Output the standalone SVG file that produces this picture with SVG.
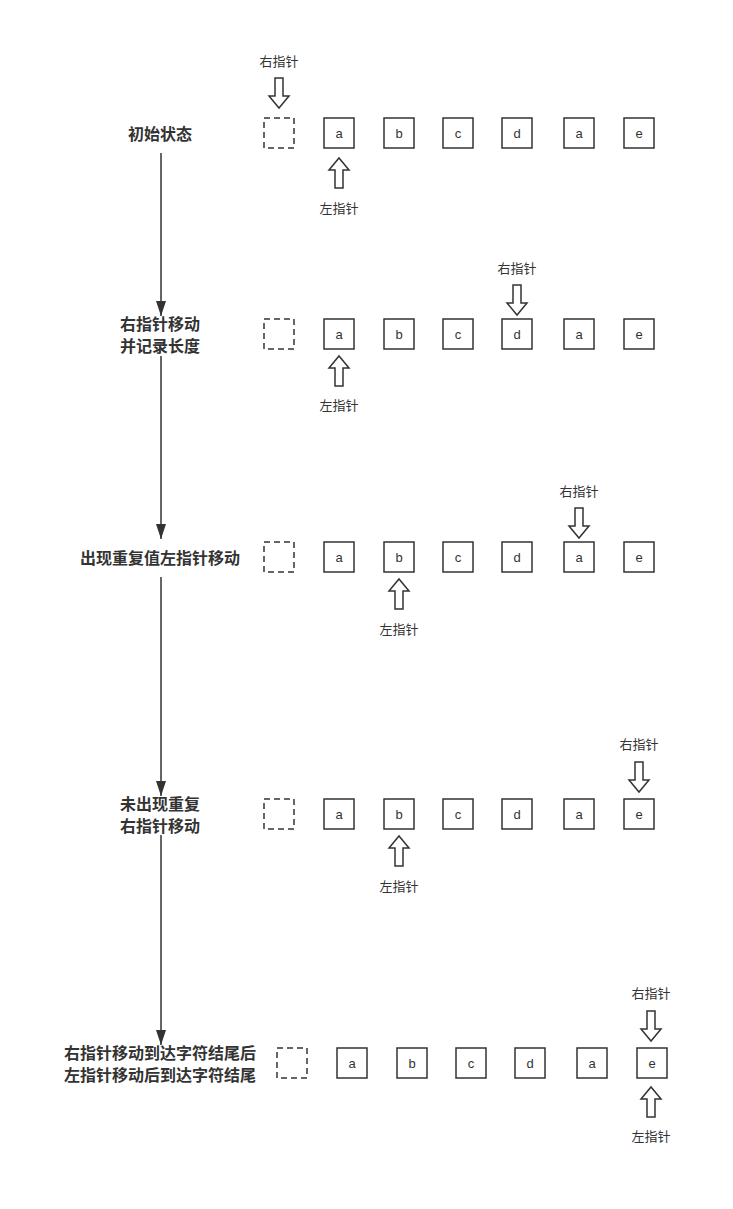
<svg xmlns="http://www.w3.org/2000/svg" width="733" height="1209" viewBox="0 0 733 1209">
<defs>
<style>
.bx{fill:#fff;stroke:#333;stroke-width:1.5}
.dash{fill:#fff;stroke:#333;stroke-width:1.5;stroke-dasharray:6 4}
.lt{font-family:"Liberation Sans","Noto Sans CJK SC",sans-serif;font-size:13px;fill:#333;text-anchor:middle;dominant-baseline:central}
.pl{font-family:"Noto Sans CJK SC","Liberation Sans",sans-serif;font-size:13px;fill:#333;text-anchor:middle;dominant-baseline:central}
.st{font-family:"Noto Sans CJK SC","Liberation Sans",sans-serif;font-size:16px;font-weight:bold;fill:#333;text-anchor:middle;dominant-baseline:central}
.ar{fill:#fff;stroke:#333;stroke-width:1.5;stroke-linejoin:miter}
.ln{stroke:#333;stroke-width:1.5;fill:none}
</style>
<marker id="ah" viewBox="0 0 15 10" refX="15" refY="5" markerWidth="15" markerHeight="10" orient="auto" markerUnits="userSpaceOnUse">
<path d="M0,0 L15,5 L0,10 z" fill="#333"/>
</marker>
<path id="down" d="M-4,0 L4,0 L4,18 L10,18 L0,30 L-10,18 L-4,18 Z"/>
<path id="up" d="M-4,30 L4,30 L4,12 L10,12 L0,0 L-10,12 L-4,12 Z"/>
</defs>
<rect width="733" height="1209" fill="#fff"/>

<g id="connectors">
<line class="ln" x1="161" y1="153" x2="161" y2="316" marker-end="url(#ah)"/>
<line class="ln" x1="161" y1="356" x2="161" y2="539" marker-end="url(#ah)"/>
<line class="ln" x1="161" y1="577" x2="161" y2="796" marker-end="url(#ah)"/>
<line class="ln" x1="161" y1="835" x2="161" y2="1045" marker-end="url(#ah)"/>
</g>

<g id="row1">
<text class="st" x="160" y="133">初始状态</text>
<rect class="dash" x="264" y="118" width="30" height="30"/>
<rect class="bx" x="324" y="118" width="30" height="30"/><text class="lt" x="339" y="133">a</text>
<rect class="bx" x="384" y="118" width="30" height="30"/><text class="lt" x="399" y="133">b</text>
<rect class="bx" x="443" y="118" width="30" height="30"/><text class="lt" x="458" y="133">c</text>
<rect class="bx" x="502" y="118" width="30" height="30"/><text class="lt" x="517" y="133">d</text>
<rect class="bx" x="564" y="118" width="30" height="30"/><text class="lt" x="579" y="133">a</text>
<rect class="bx" x="624" y="118" width="30" height="30"/><text class="lt" x="639" y="133">e</text>
<text class="pl" x="279" y="60">右指针</text>
<use href="#down" class="ar" x="279" y="78"/>
<use href="#up" class="ar" x="339" y="158"/>
<text class="pl" x="339" y="207">左指针</text>
</g>

<g id="row2">
<text class="st" x="160" y="323">右指针移动</text>
<text class="st" x="160" y="345">并记录长度</text>
<rect class="dash" x="264" y="319" width="30" height="30"/>
<rect class="bx" x="324" y="319" width="30" height="30"/><text class="lt" x="339" y="334">a</text>
<rect class="bx" x="384" y="319" width="30" height="30"/><text class="lt" x="399" y="334">b</text>
<rect class="bx" x="443" y="319" width="30" height="30"/><text class="lt" x="458" y="334">c</text>
<rect class="bx" x="502" y="319" width="30" height="30"/><text class="lt" x="517" y="334">d</text>
<rect class="bx" x="564" y="319" width="30" height="30"/><text class="lt" x="579" y="334">a</text>
<rect class="bx" x="624" y="319" width="30" height="30"/><text class="lt" x="639" y="334">e</text>
<text class="pl" x="517" y="267">右指针</text>
<use href="#down" class="ar" x="517" y="285"/>
<use href="#up" class="ar" x="339" y="356"/>
<text class="pl" x="339" y="404">左指针</text>
</g>

<g id="row3">
<text class="st" x="160" y="557">出现重复值左指针移动</text>
<rect class="dash" x="264" y="542" width="30" height="30"/>
<rect class="bx" x="324" y="542" width="30" height="30"/><text class="lt" x="339" y="557">a</text>
<rect class="bx" x="384" y="542" width="30" height="30"/><text class="lt" x="399" y="557">b</text>
<rect class="bx" x="443" y="542" width="30" height="30"/><text class="lt" x="458" y="557">c</text>
<rect class="bx" x="502" y="542" width="30" height="30"/><text class="lt" x="517" y="557">d</text>
<rect class="bx" x="564" y="542" width="30" height="30"/><text class="lt" x="579" y="557">a</text>
<rect class="bx" x="624" y="542" width="30" height="30"/><text class="lt" x="639" y="557">e</text>
<text class="pl" x="579" y="490">右指针</text>
<use href="#down" class="ar" x="579" y="508"/>
<use href="#up" class="ar" x="399" y="579"/>
<text class="pl" x="399" y="628">左指针</text>
</g>

<g id="row4">
<text class="st" x="160" y="803">未出现重复</text>
<text class="st" x="160" y="825">右指针移动</text>
<rect class="dash" x="264" y="799" width="30" height="30"/>
<rect class="bx" x="324" y="799" width="30" height="30"/><text class="lt" x="339" y="814">a</text>
<rect class="bx" x="384" y="799" width="30" height="30"/><text class="lt" x="399" y="814">b</text>
<rect class="bx" x="443" y="799" width="30" height="30"/><text class="lt" x="458" y="814">c</text>
<rect class="bx" x="502" y="799" width="30" height="30"/><text class="lt" x="517" y="814">d</text>
<rect class="bx" x="564" y="799" width="30" height="30"/><text class="lt" x="579" y="814">a</text>
<rect class="bx" x="624" y="799" width="30" height="30"/><text class="lt" x="639" y="814">e</text>
<text class="pl" x="639" y="743">右指针</text>
<use href="#down" class="ar" x="639" y="762"/>
<use href="#up" class="ar" x="399" y="836"/>
<text class="pl" x="399" y="885">左指针</text>
</g>

<g id="row5">
<text class="st" x="160" y="1052">右指针移动到达字符结尾后</text>
<text class="st" x="160" y="1074">左指针移动后到达字符结尾</text>
<rect class="dash" x="277" y="1048" width="30" height="30"/>
<rect class="bx" x="337" y="1048" width="30" height="30"/><text class="lt" x="352" y="1063">a</text>
<rect class="bx" x="397" y="1048" width="30" height="30"/><text class="lt" x="412" y="1063">b</text>
<rect class="bx" x="456" y="1048" width="30" height="30"/><text class="lt" x="471" y="1063">c</text>
<rect class="bx" x="515" y="1048" width="30" height="30"/><text class="lt" x="530" y="1063">d</text>
<rect class="bx" x="577" y="1048" width="30" height="30"/><text class="lt" x="592" y="1063">a</text>
<rect class="bx" x="637" y="1048" width="30" height="30"/><text class="lt" x="652" y="1063">e</text>
<text class="pl" x="651" y="992">右指针</text>
<use href="#down" class="ar" x="651" y="1011"/>
<use href="#up" class="ar" x="651" y="1087"/>
<text class="pl" x="651" y="1135">左指针</text>
</g>
</svg>
